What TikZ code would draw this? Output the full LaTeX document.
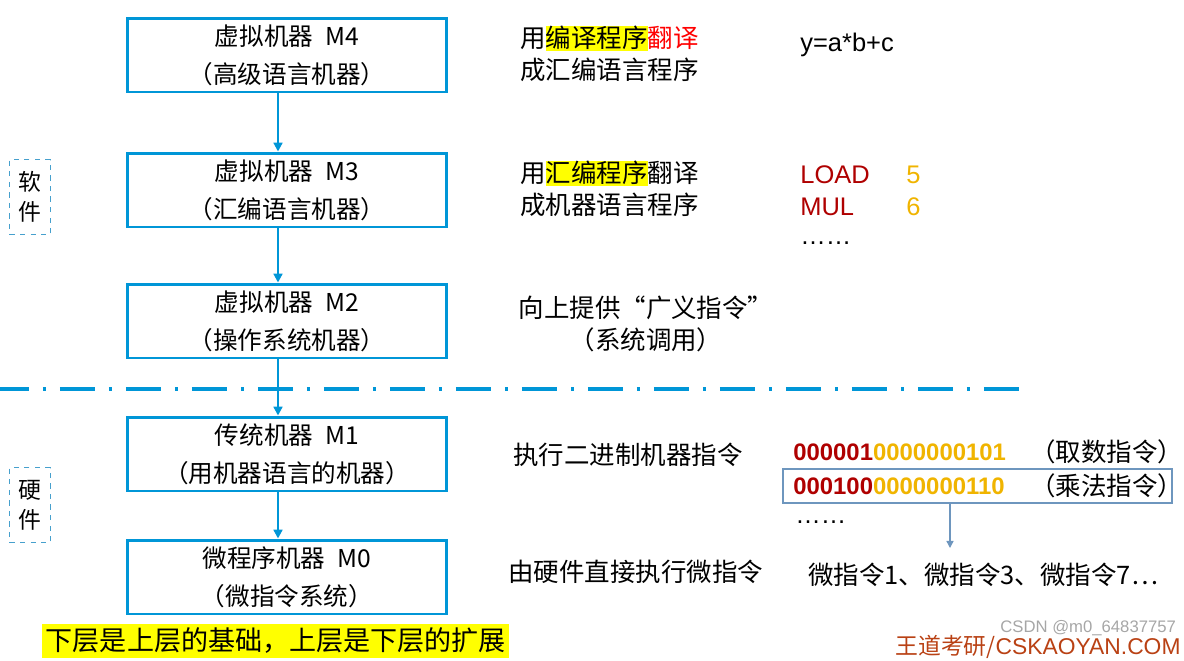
\documentclass[tikz,border=0pt]{standalone}
\usepackage{fontspec}
\setmainfont{Noto Sans CJK SC}
\newfontfamily\lat{Liberation Sans}
\usetikzlibrary{arrows.meta}
\definecolor{boxblue}{RGB}{0,150,215}
\definecolor{dashblue}{RGB}{70,160,205}
\definecolor{hlyellow}{RGB}{255,255,0}
\definecolor{codered}{RGB}{175,0,0}
\definecolor{codegold}{RGB}{240,180,0}
\definecolor{selgray}{RGB}{110,150,190}
\definecolor{wdbrown}{RGB}{185,65,20}
\newcommand{\hlt}[1]{{\setlength{\fboxsep}{0pt}\colorbox{hlyellow}{\rule[-0.15em]{0pt}{0.95em}#1}}}
\begin{document}
\begin{tikzpicture}[x=0.02cm,y=-0.02cm,every node/.style={inner sep=0pt},
  machine/.style={draw=boxblue,line width=1.7pt,minimum width=6.4cm,minimum height=1.48cm,align=center,font=\fontsize{14}{21.6}\selectfont},
  layer/.style={draw=dashblue,dashed,line width=0.6pt,minimum width=0.82cm,minimum height=1.5cm,align=center,font=\fontsize{13}{17}\selectfont},
  note/.style={anchor=west,align=left,font=\fontsize{14.5}{18.4}\selectfont},
  code/.style={anchor=west,font=\fontsize{14.5}{18}\selectfont\lat},
  bits/.style={anchor=west,font=\fontsize{13.6}{16}\selectfont\lat\bfseries},
  flow/.style={-{Triangle[length=5pt,width=5pt]},draw=boxblue,line width=1.2pt}]
\useasboundingbox (0,0) rectangle (1184,660);
\node[machine] (m4) at (287,55) {虚拟机器\enspace M4\\（高级语言机器）};
\node[machine] (m3) at (287,190) {虚拟机器\enspace M3\\（汇编语言机器）};
\node[machine] (m2) at (287,321) {虚拟机器\enspace M2\\（操作系统机器）};
\node[machine] (m1) at (287,454) {传统机器\enspace M1\\（用机器语言的机器）};
\node[machine] (m0) at (287,577) {微程序机器\enspace M0\\（微指令系统）};
\node[layer] (soft) at (30,197) {软\\件};
\node[layer] (hard) at (30,505) {硬\\件};
\draw[boxblue,line width=1.8pt,dash pattern=on 0.7cm off 0.28cm on 0.06cm off 0.28cm,dash phase=0.12cm] (0,389) -- (1020,389);
\foreach \a/\b in {m4/m3,m3/m2,m2/m1,m1/m0}
  \draw[flow] ([xshift=-0.18cm]\a.south) -- ([xshift=-0.18cm]\b.north);
\node[note] (t4) at (520,54) {用\hlt{编译程序}\textcolor{red}{翻译}\\成汇编语言程序};
\node[code] (expr) at (800,45) {y=a*b+c};
\node[note] (t3) at (520,189) {用\hlt{汇编程序}翻译\\成机器语言程序};
\node[code,text=codered] (load) at (800,175) {LOAD};
\node[code,text=codegold] (five) at (906,175) {5};
\node[code,text=codered] (mul) at (800,207) {MUL};
\node[code,text=codegold] (six) at (906,207) {6};
\node[code] (more3) at (800,243) {……};
\node[note,anchor=center,align=center] (t2) at (646,324) {向上提供“广义指令”\\（系统调用）};
\node[note] (t1) at (513,455) {执行二进制机器指令};
\node[bits] (bin1) at (793,452) {\textcolor{codered}{000001}\textcolor{codegold}{0000000101}};
\node[note] (ins1) at (1030,452) {（取数指令）};
\node[draw=selgray,line width=0.8pt,minimum width=7.78cm,minimum height=0.68cm] (sel) at (977.5,486) {};
\node[bits] (bin2) at (793,486) {\textcolor{codered}{000100}\textcolor{codegold}{0000000110}};
\node[note] (ins2) at (1030,486) {（乘法指令）};
\node[code] (more1) at (795,522) {……};
\coordinate (mi) at (950,548);
\draw[-{Triangle[length=4pt,width=4pt]},selgray,line width=0.8pt] (sel.south -| mi) -- (mi);
\node[note] (t0) at (508,572) {由硬件直接执行微指令};
\node[note] (micro) at (808,575) {微指令1、微指令3、微指令7…};
\node[fill=hlyellow,anchor=west,minimum height=0.68cm,inner xsep=2pt,font=\fontsize{15.4}{18}\selectfont] (base) at (42,641) {下层是上层的基础，上层是下层的扩展};
\node[anchor=west,text=wdbrown,font=\fontsize{13}{16}\selectfont] (wd) at (895,647) {王道考研/{\lat CSKAOYAN.COM}};
\node[anchor=west,text=gray!70,font=\fontsize{9.5}{11}\selectfont\lat] (csdn) at (1000,628) {CSDN @m0\_64837757};
\end{tikzpicture}
\end{document}
